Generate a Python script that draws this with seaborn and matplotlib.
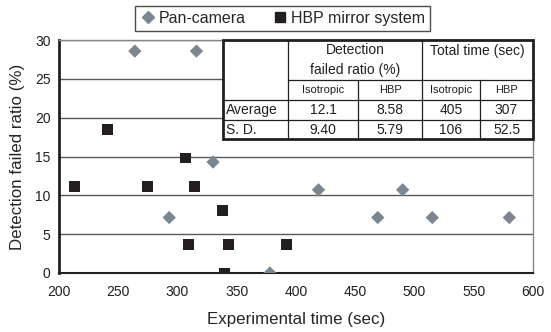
import matplotlib
matplotlib.use("Agg")
import matplotlib.pyplot as plt
import seaborn as sns
import pandas as pd
from matplotlib.lines import Line2D
from matplotlib.patches import Rectangle

# ---- data ----
pan_time = [264, 316, 330, 293, 378, 419, 490, 469, 515, 580]
pan_ratio = [28.57, 28.57, 14.29, 7.14, 0.0, 10.71, 10.71, 7.14, 7.14, 7.14]
hbp_time = [213, 241, 307, 275, 314, 338, 309, 343, 392, 340]
hbp_ratio = [11.11, 18.52, 14.81, 11.11, 11.11, 8.0, 3.70, 3.70, 3.70, 0.0]
series_names = ["Pan-camera", "HBP mirror system"]
x_ticks = [200, 250, 300, 350, 400, 450, 500, 550, 600]
y_ticks = [0, 5, 10, 15, 20, 25, 30]

table_header1 = ["", "Detection\nfailed ratio (%)", "Total time (sec)"]
table_header2 = ["Isotropic", "HBP", "Isotropic", "HBP"]
row_labels = ["Average", "S. D."]
avg_values = ["12.1", "8.58", "405", "307"]
sd_values = ["9.40", "5.79", "106", "52.5"]

df = pd.DataFrame({
    "time": pan_time + hbp_time,
    "ratio": pan_ratio + hbp_ratio,
    "series": [series_names[0]] * len(pan_time) + [series_names[1]] * len(hbp_time),
})

sns.set_style("white")
plt.rcParams['font.family'] = ['Liberation Sans', 'DejaVu Sans']

W, H = 551, 332
fig = plt.figure(figsize=(W / 100, H / 100), dpi=100)
ax = fig.add_axes([59 / W, 1 - 273 / H, (533 - 59) / W, (273 - 40) / H])

pan_col = "#7b8690"
hbp_col = "#231f20"

sns.scatterplot(data=df, x="time", y="ratio", hue="series", style="series", size="series",
                markers={series_names[0]: "D", series_names[1]: "s"},
                palette={series_names[0]: pan_col, series_names[1]: hbp_col},
                sizes={series_names[0]: 46, series_names[1]: 62},
                linewidth=0, ax=ax, legend=False, zorder=3)

ax.set_xlim(200, 600)
ax.set_ylim(0, 30)
ax.set_xticks(x_ticks)
ax.set_yticks(y_ticks)
ax.set_xlabel("Experimental time (sec)", fontsize=12.2, labelpad=9)
ax.set_ylabel("Detection failed ratio (%)", fontsize=12.2, labelpad=7)
ax.tick_params(axis="both", labelsize=10, colors="#231f20")
ax.tick_params(axis="x", direction="in", length=5, width=1.2, pad=9)
ax.tick_params(axis="y", direction="in", length=4, width=1.2, pad=6)
for y in y_ticks[1:]:
    ax.axhline(y, color="#5a5a5a", lw=1.0, zorder=1)
ax.spines["left"].set_color("#231f20")
ax.spines["left"].set_linewidth(2.0)
ax.spines["bottom"].set_color("#231f20")
ax.spines["bottom"].set_linewidth(1.5)
ax.spines["right"].set_color("#888888")
ax.spines["right"].set_linewidth(1.0)
ax.spines["top"].set_color("#888888")
ax.spines["top"].set_linewidth(1.0)

# ---- legend ----
handles = [Line2D([], [], marker="D", color=pan_col, ls="", markersize=6.2),
           Line2D([], [], marker="s", color=hbp_col, ls="", markersize=7.2)]
leg = fig.legend(handles, series_names, loc="center", ncol=2,
                 bbox_to_anchor=(282.5 / W, 1 - 18.5 / H), frameon=True, fontsize=11.5,
                 handletextpad=0.2, columnspacing=1.6, handlelength=1.0,
                 borderpad=0.3, fancybox=False, edgecolor="#231f20")
leg.get_frame().set_linewidth(1.0)

# ---- table (figure pixel coordinates) ----
def fx(px):
    return px / W

def fy(py):
    return 1 - py / H

cols = [223, 288, 358, 422, 480, 533]
rows = [40, 80, 100, 120, 139]
fig.patches.append(Rectangle((fx(cols[0]), fy(rows[-1])), fx(cols[-1]) - fx(cols[0]),
                             fy(rows[0]) - fy(rows[-1]), transform=fig.transFigure,
                             facecolor="white", edgecolor="#231f20", lw=2.0, zorder=5))

def line(x0, y0, x1, y1, lw=0.9):
    fig.add_artist(Line2D([fx(x0), fx(x1)], [fy(y0), fy(y1)], transform=fig.transFigure,
                          color="#231f20", lw=lw, zorder=6))

line(cols[1], rows[0], cols[1], rows[-1])
line(cols[3], rows[0], cols[3], rows[-1])
line(cols[2], rows[1], cols[2], rows[-1])
line(cols[4], rows[1], cols[4], rows[-1])
line(cols[1], rows[1], cols[5], rows[1])
line(cols[0], rows[2], cols[5], rows[2])
line(cols[0], rows[3], cols[5], rows[3])

def txt(x, y, s, size=10, ha="center"):
    fig.text(fx(x), fy(y), s, ha=ha, va="center", fontsize=size, color="#231f20",
             zorder=7, linespacing=1.5)

txt((cols[1] + cols[3]) / 2, (rows[0] + rows[1]) / 2, table_header1[1])
txt((cols[3] + cols[5]) / 2, (rows[0] + rows[1]) / 2 - 9, table_header1[2])
for i, h in enumerate(table_header2):
    txt((cols[i + 1] + cols[i + 2]) / 2, (rows[1] + rows[2]) / 2, h, size=8)
txt(cols[0] + 3, (rows[2] + rows[3]) / 2, row_labels[0], ha="left")
txt(cols[0] + 3, (rows[3] + rows[4]) / 2, row_labels[1], ha="left")
for i, v in enumerate(avg_values):
    txt((cols[i + 1] + cols[i + 2]) / 2, (rows[2] + rows[3]) / 2, v)
for i, v in enumerate(sd_values):
    txt((cols[i + 1] + cols[i + 2]) / 2, (rows[3] + rows[4]) / 2, v)

fig.savefig("out.png", dpi=100)
